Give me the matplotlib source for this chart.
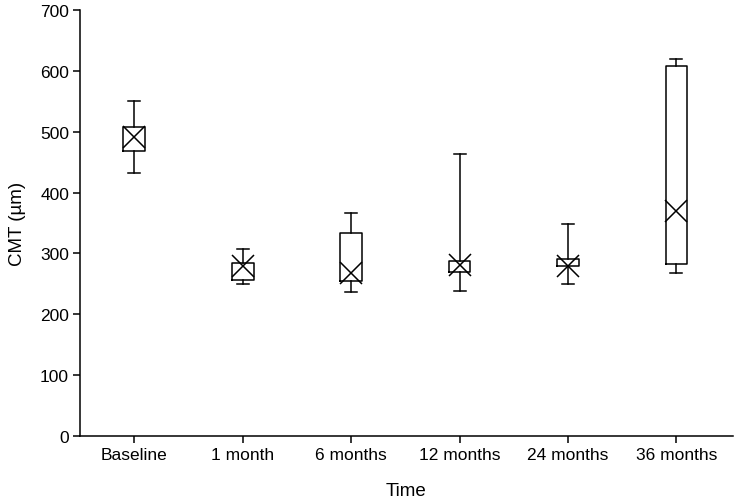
import matplotlib
matplotlib.use("Agg")
import matplotlib.pyplot as plt

plt.rcParams['font.family'] = ['Liberation Sans', 'DejaVu Sans']

# CMT values (um)
labels = ["Baseline", "1 month", "6 months", "12 months", "24 months", "36 months"]
whisker_low = [432, 249, 237, 239, 250, 268]
q1 = [469, 256, 254, 270, 280, 282]
center = [492, 280, 268, 281, 280, 370]
q3 = [507, 285, 334, 287, 291, 608]
whisker_high = [550, 308, 366, 463, 349, 619]

stats = []
for i in range(len(labels)):
    stats.append({
        "label": labels[i],
        "whislo": whisker_low[i],
        "q1": q1[i],
        "med": center[i],
        "mean": center[i],
        "q3": q3[i],
        "whishi": whisker_high[i],
        "fliers": [],
    })

fig = plt.figure(figsize=(7.35, 5.02), dpi=100)
ax = fig.add_axes([0.109, 0.1295, 0.888, 0.8485])

lw = 1.1
ax.bxp(stats, positions=range(len(labels)), widths=0.2, capwidths=0.11,
       showmeans=True,
       boxprops=dict(color="black", linewidth=lw),
       whiskerprops=dict(color="black", linewidth=lw),
       capprops=dict(color="black", linewidth=lw),
       medianprops=dict(linewidth=0),
       meanprops=dict(marker="x", markersize=16, markeredgecolor="black",
                      markeredgewidth=lw, linestyle="none"))

ax.set_xlim(-0.5, 5.52)
ax.set_ylim(0, 700)
ax.set_yticks(range(0, 701, 100))
ax.set_xticks(range(len(labels)))
ax.set_xticklabels(labels)

for side in ["top", "right"]:
    ax.spines[side].set_visible(False)
for side in ["left", "bottom"]:
    ax.spines[side].set_linewidth(1.1)
ax.tick_params(direction="out", length=5, width=1.1, labelsize=12.5, pad=3)

ax.set_xlabel("Time", fontsize=13.5, labelpad=14)
ax.set_ylabel("CMT (µm)", fontsize=13.5, labelpad=10)

fig.savefig("out.png", dpi=100)
